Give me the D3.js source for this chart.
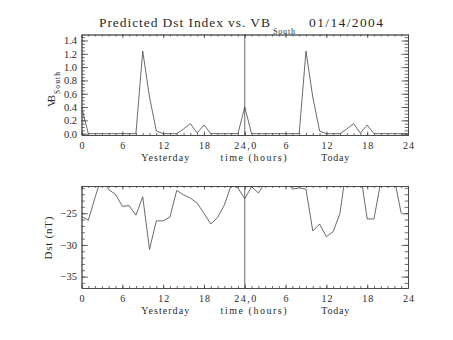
<!DOCTYPE html>
<html><head><meta charset="utf-8">
<script src="https://cdn.jsdelivr.net/npm/d3@7"></script>
<style>
body{margin:0;background:#fff;}
text{font-family:"Liberation Serif","Times New Roman",serif;fill:#2a2a2a;}
</style></head>
<body><svg id="c" width="453" height="340"></svg>
<script>
// ---- data ----
const hours = d3.range(0, 49);             // hours since start of "yesterday"
const vbSouth = [0.40,0,0,0,0,0,0,0,0,1.24,0.55,0.04,0,0,0,0.07,0.15,0.01,0.13,0,0,0,0,0,
                 0.40,0,0,0,0,0,0,0,0,1.24,0.55,0.04,0,0,0,0.07,0.15,0.01,0.13,0,0,0,0,0,0];
const dstHours = d3.range(0, 48);
const dst = [-25.5,-26.1,-22.5,-19.0,-21.3,-22.0,-23.9,-23.8,-25.3,-22.4,-30.7,-26.2,
             -26.2,-25.6,-21.4,-22.1,-22.6,-23.4,-25.0,-26.7,-25.7,-23.7,-20.6,-21.0,
             -22.7,-20.8,-21.8,-20.2,-19.5,-20.0,-19.8,-21.2,-21.0,-21.2,-27.8,-26.7,
             -28.7,-27.9,-25.0,-17.3,-17.0,-18.6,-25.9,-25.9,-20.0,-19.0,-19.6,-25.0];
const xTickValues = [0,6,12,18,24,30,36,42,48];
const xTickLabels = ["0","6","12","18","24,0","6","12","18","24"];
const vbTicks = [0,0.2,0.4,0.6,0.8,1.0,1.2,1.4];
const dstTicks = [-35,-30,-25];
const titleMain = "Predicted Dst Index vs. VB", titleSub = "South", titleDate = "01/14/2004";
const dayLabels = [{h:12.3,t:"Yesterday",w:48},{h:25.3,t:"time (hours)",w:66},{h:37.3,t:"Today",w:28}];

const svg = d3.select("#c");
const L = 81.5, R = 408;
const x = d3.scaleLinear().domain([0,48]).range([L,R]);
const ink = "#444";
const sw = 0.8;

function panel(opts){
  const {top, bottom, y, majorY, minorY, yFmt, xs, ys, clipId} = opts;
  const g = svg.append("g");
  g.append("clipPath").attr("id",clipId).append("rect")
    .attr("x",L).attr("y",top).attr("width",R-L).attr("height",bottom-top);
  const minorX = d3.range(0,49);
  const style = s => { s.selectAll("path,line").attr("stroke",ink).attr("stroke-width",sw);
                       s.selectAll("text").attr("font-size",null).attr("font-family",null).attr("fill","#2a2a2a"); };
  g.append("g").attr("transform",`translate(0,${bottom})`)
    .call(d3.axisBottom(x).tickValues(minorX).tickFormat("").tickSize(-2).tickSizeOuter(0)).call(style);
  g.append("g").attr("transform",`translate(0,${top})`)
    .call(d3.axisTop(x).tickValues(minorX).tickFormat("").tickSize(-2).tickSizeOuter(0)).call(style);
  const xb = g.append("g").attr("transform",`translate(0,${bottom})`)
    .call(d3.axisBottom(x).tickValues(xTickValues).tickFormat((d,i)=>xTickLabels[i]).tickSize(-3.5).tickSizeOuter(0).tickPadding(7))
    .call(style);
  xb.selectAll("text").style("font-size","10px").attr("textLength",function(){return this.textContent.length*5.5;})
    .attr("lengthAdjust","spacing");
  g.append("g").attr("transform",`translate(0,${top})`)
    .call(d3.axisTop(x).tickValues(xTickValues).tickFormat("").tickSize(-3.5).tickSizeOuter(0)).call(style);
  g.append("g").attr("transform",`translate(${L},0)`)
    .call(d3.axisLeft(y).tickValues(minorY).tickFormat("").tickSize(-3.3).tickSizeOuter(0)).call(style);
  g.append("g").attr("transform",`translate(${R},0)`)
    .call(d3.axisRight(y).tickValues(minorY).tickFormat("").tickSize(-3.3).tickSizeOuter(0)).call(style);
  const yl = g.append("g").attr("transform",`translate(${L},0)`)
    .call(d3.axisLeft(y).tickValues(majorY).tickFormat(yFmt).tickSize(-6.5).tickSizeOuter(0).tickPadding(4.5))
    .call(style);
  yl.selectAll("text").style("font-size","10.5px");
  g.append("g").attr("transform",`translate(${R},0)`)
    .call(d3.axisRight(y).tickValues(majorY).tickFormat("").tickSize(-6.5).tickSizeOuter(0)).call(style);
  g.append("line").attr("x1",x(24)).attr("x2",x(24)).attr("y1",top).attr("y2",bottom)
    .attr("stroke",ink).attr("stroke-width",sw);
  const line = d3.line().x(d=>x(d[0])).y(d=>y(d[1]));
  g.append("path").datum(xs.map((h,i)=>[h,ys[i]]))
    .attr("clip-path",`url(#${clipId})`)
    .attr("fill","none").attr("stroke",ink).attr("stroke-width",sw).attr("d",line);
  g.selectAll("text.day").data(dayLabels).enter().append("text")
    .attr("x",d=>x(d.h)-d.w/2).attr("y",bottom+26)
    .attr("textLength",d=>d.w).attr("lengthAdjust","spacing")
    .style("font-size","10px").text(d=>d.t);
  return g;
}

const yTop = d3.scaleLinear().domain([-0.02,1.49]).range([135,34.5]);
panel({top:34.5,bottom:135,y:yTop,majorY:vbTicks,minorY:d3.range(0,30).map(i=>i*0.05),
  yFmt:d3.format(".1f"),xs:hours,ys:vbSouth,clipId:"c1"});
const yBot = d3.scaleLinear().domain([-36.8,-20.7]).range([288,186]);
panel({top:186,bottom:288,y:yBot,majorY:dstTicks,minorY:d3.range(-36,-20),
  yFmt:d=>"\u2212"+Math.abs(d),xs:dstHours,ys:dst,clipId:"c2"});

// title
svg.append("text").attr("x",99).attr("y",27).attr("textLength",171).attr("lengthAdjust","spacing")
  .style("font-size","13.5px").text(titleMain);
svg.append("text").attr("x",273).attr("y",34).attr("textLength",22).attr("lengthAdjust","spacing")
  .style("font-size","8px").text(titleSub);
svg.append("text").attr("x",309).attr("y",27).attr("textLength",74).attr("lengthAdjust","spacing")
  .style("font-size","13.5px").text(titleDate);

// y labels
svg.append("text").attr("transform","translate(55,107) rotate(-90)").attr("textLength",12)
  .attr("lengthAdjust","spacing").style("font-size","11px").text("VB");
svg.append("text").attr("transform","translate(59.5,94) rotate(-90)").attr("textLength",22)
  .attr("lengthAdjust","spacing").style("font-size","7.5px").text("South");
svg.append("text").attr("transform","translate(51.5,259.5) rotate(-90)").attr("textLength",43)
  .attr("lengthAdjust","spacing").style("font-size","11px").text("Dst (nT)");
</script></body></html>
